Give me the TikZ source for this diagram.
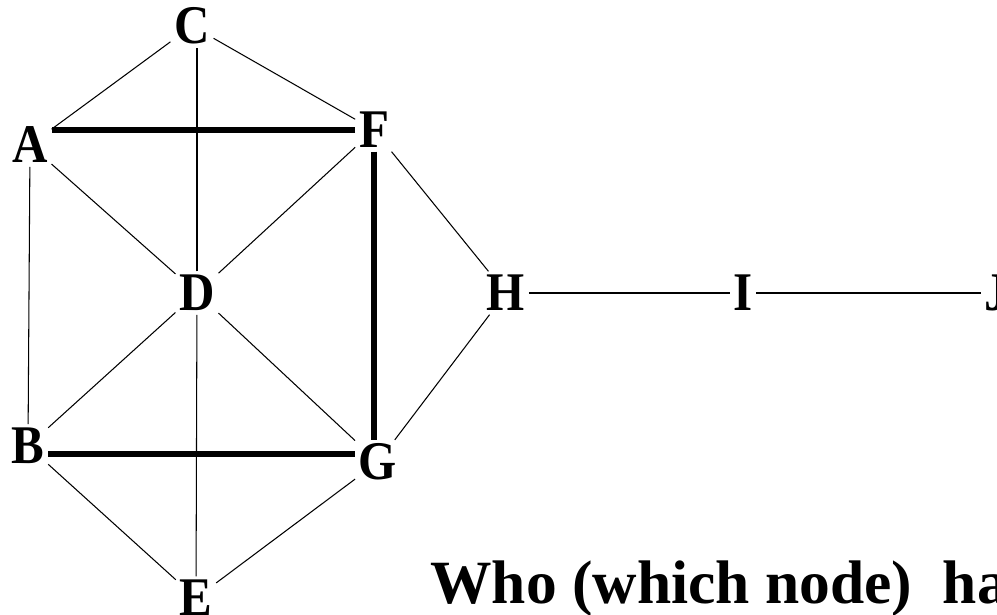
\documentclass[tikz,border=0pt]{standalone}
\usepackage{fontspec}
\setmainfont{Liberation Serif}
\newfontfamily\graphfont[FakeStretch=0.9]{Liberation Serif}
\usetikzlibrary{calc}
\tikzset{
  vertex/.style={font=\graphfont\fontsize{31}{31}\selectfont\bfseries, inner sep=2pt},
  thin-edge/.style={line width=0.6pt, draw=black},
  heavy-edge/.style={line width=3pt, draw=black},
  question-text/.style={font=\fontsize{35}{35}\selectfont\bfseries, anchor=base west, inner sep=0pt}
}
\begin{document}
\begin{tikzpicture}[x=0.02cm, y=-0.02cm]
\useasboundingbox (0,0) rectangle (997,615);

% Vertices
\node[vertex] (C) at (192,26) {C};
\node[vertex] (A) at (30,145) {A};
\node[vertex] (F) at (374,130) {F};
\node[vertex] (D) at (197,293) {D};
\node[vertex] (H) at (506,293) {H};
\node[vertex] (I) at (743,293) {I};
\node[vertex] (J) at (997,293) {J};
\node[vertex] (B) at (28,446) {B};
\node[vertex] (G) at (378,462) {G};
\node[vertex] (E) at (196,598) {E};

% Thin edges
\draw[thin-edge] (C) -- (A);
\draw[thin-edge] (C) -- (F);
\draw[thin-edge] (D.north) -- (D.north |- C.south);
\draw[thin-edge] (A) -- (D);
\draw[thin-edge] (F) -- (D);
\draw[thin-edge] (A) -- (B);
\draw[thin-edge] (B) -- (D);
\draw[thin-edge] (D) -- (G);
\draw[thin-edge] (D) -- (E);
\draw[thin-edge] (B) -- (E);
\draw[thin-edge] (G) -- (E);
\draw[thin-edge] (F) -- (H);
\draw[thin-edge] (H) -- (G);
\draw[thin-edge] (H) -- (I);
\draw[thin-edge] (I) -- (J);

% Heavy edges
\coordinate (BGmid) at ($(B.east)!0.5!(G.west)$);
\draw[heavy-edge] (F.west) -- (F.west -| A.east);
\draw[heavy-edge] (F.south) -- (F.south |- G.north);
\draw[heavy-edge] (BGmid -| B.east) -- (BGmid -| G.west);

% Question
\node[question-text] (question) at (430,603) {Who (which node)\ \ ha};
\end{tikzpicture}
\end{document}
